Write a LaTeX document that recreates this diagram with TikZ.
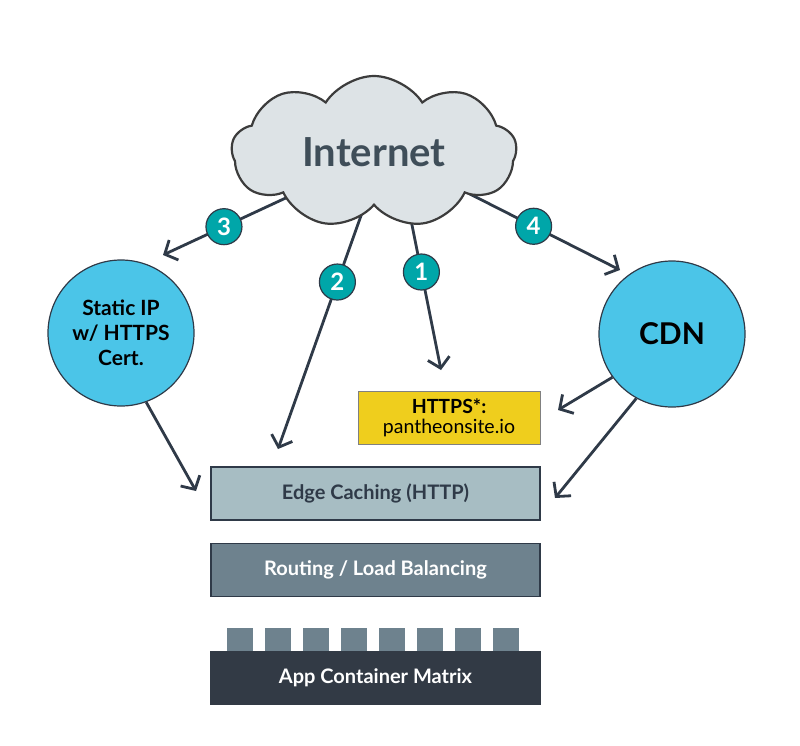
\documentclass[tikz,border=0pt]{standalone}
\usepackage{fontspec}
\setmainfont{Lato}
\usetikzlibrary{arrows.meta,shapes.symbols,backgrounds}
\definecolor{cloudfill}{HTML}{DDE3E6}
\definecolor{cloudline}{HTML}{3C3C3C}
\definecolor{inettext}{HTML}{3F4E59}
\definecolor{sitecyan}{HTML}{4BC5E8}
\definecolor{badgeteal}{HTML}{00A6A9}
\definecolor{linkdark}{HTML}{2F3A48}
\definecolor{httpsyellow}{HTML}{EFCE1D}
\definecolor{edgefill}{HTML}{A7BDC3}
\definecolor{routefill}{HTML}{6E828E}
\definecolor{matrixfill}{HTML}{323A45}

\begin{document}
\begin{tikzpicture}[x=1pt, y=-1pt,
    link/.style={-{Straight Barb[length=10pt,width=22pt]}, line width=2.8pt, color=linkdark},
    badge/.style={circle, fill=badgeteal, draw=linkdark, line width=1.2pt, minimum size=36pt, inner sep=0pt,
        text=white, font=\fontsize{24}{24}\selectfont\bfseries},
    site/.style={circle, fill=sitecyan, draw=linkdark, line width=1.2pt, minimum size=146pt, inner sep=0pt, align=center},
    layerbox/.style={rectangle, draw=linkdark, line width=1.2pt, minimum width=329pt, minimum height=53pt,
        font=\fontsize{20}{22}\selectfont\bfseries},
    slot/.style={rectangle, fill=routefill, minimum width=26pt, minimum height=23pt, inner sep=0pt}]
    \useasboundingbox (0,0) rectangle (800,745);

    % Internet cloud
    \node[cloud, cloud puffs=9, cloud puff arc=115, aspect=1.85, fill=cloudfill, draw=cloudline, line width=2.2pt,
        minimum width=285pt, minimum height=152pt, text=inettext, font=\fontsize{40}{42}\selectfont\bfseries]
        (inet) at (374,152) {Internet};

    % Static IP and CDN
    \node[site, font=\fontsize{21}{25}\selectfont\bfseries] (sip) at (121,333) {Static IP\\w/ HTTPS\\Cert.};
    \node[site, font=\fontsize{30}{30}\selectfont\bfseries] (cdn) at (672,334) {CDN};

    % Platform layers
    \node[rectangle, fill=httpsyellow, draw=gray, line width=1pt, minimum width=182pt, minimum height=53pt,
        align=center, font=\fontsize{19.5}{20}\selectfont] (https) at (449,417.5)
        {\textbf{HTTPS*:}\\pantheonsite.io};
    \node[layerbox, fill=edgefill, text=linkdark] (edge) at (375.5,493.5) {Edge Caching (HTTP)};
    \node[layerbox, fill=routefill, text=white] (route) at (375.5,570) {Routing / Load Balancing};
    \foreach \i in {0,...,7}
        \node[slot] (slot\i) at (240+38*\i,639.5) {};
    \node[layerbox, fill=matrixfill, draw=matrixfill, text=white] (matrix) at (375.5,678) {App Container Matrix};

    % Free arrow ends
    \coordinate (s3) at (290,196);
    \coordinate (e3) at (163,255);
    \coordinate (s2) at (368,196);
    \coordinate (e2) at (278,449);
    \coordinate (s1) at (406,195);
    \coordinate (e1) at (441,370);
    \coordinate (s4) at (460,189);
    \coordinate (e4) at (620,270);
    \coordinate (e5) at (558,410);
    \coordinate (e6) at (555,498);
    \coordinate (e7) at (196,491);

    % Connectors
    \begin{scope}[on background layer]
        \draw[link] (s3) -- node[badge, pos=0.52] (n3) {3} (e3);
        \draw[link] (s2) -- node[badge, pos=0.34] (n2) {2} (e2);
        \draw[link] (s1) -- node[badge, pos=0.44] (n1) {1} (e1);
        \draw[link] (s4) -- node[badge, pos=0.46] (n4) {4} (e4);
    \end{scope}
    \draw[link] (cdn.216) -- (e5);
    \draw[link] (cdn.241) -- (e6);
    \draw[link] (sip.290) -- (e7);
\end{tikzpicture}
\end{document}
